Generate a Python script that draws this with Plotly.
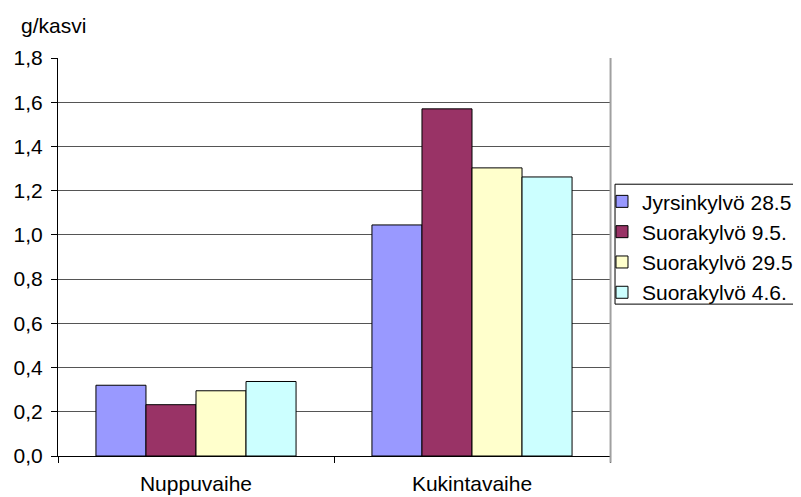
import plotly.graph_objects as go

categories = ["Nuppuvaihe", "Kukintavaihe"]
series_names = ["Jyrsinkylvö 28.5.", "Suorakylvö 9.5.", "Suorakylvö 29.5.", "Suorakylvö 4.6."]
jyrsin_285 = [0.32, 1.045]
suora_95 = [0.232, 1.57]
suora_295 = [0.295, 1.303]
suora_46 = [0.337, 1.262]
colors = ["#9999FF", "#993366", "#FFFFCC", "#CCFFFF"]
y_ticks = [0.0, 0.2, 0.4, 0.6, 0.8, 1.0, 1.2, 1.4, 1.6, 1.8]

FONT = "Arial, Liberation Sans, sans-serif"
fig = go.Figure()
for name, vals, col in zip(series_names, [jyrsin_285, suora_95, suora_295, suora_46], colors):
    fig.add_trace(go.Bar(x=categories, y=vals, name=name,
                         marker=dict(color=col, line=dict(color="black", width=1))))

fig.update_layout(
    width=793, height=489,
    margin=dict(l=50, r=191, t=50, b=41, autoexpand=False),
    paper_bgcolor="white", plot_bgcolor="white",
    font=dict(family=FONT, size=21, color="black"),
    separators=", ",
    barmode="group", bargap=0.275, bargroupgap=0,
    showlegend=True,
    legend=dict(x=0.9855, xanchor="left", y=0.6904, yanchor="top",
                bgcolor="rgba(0,0,0,0)", borderwidth=0,
                font=dict(family=FONT, size=21, color="black"),
                tracegroupgap=0),
    xaxis=dict(showline=True, linecolor="black", linewidth=1,
               ticks="outside", ticklen=6, tickcolor="black", tickson="boundaries",
               showgrid=False, ticklabelstandoff=9),
    yaxis=dict(range=[0, 1.8], tickvals=y_ticks, tickformat=".1f",
               showline=True, linecolor="black", linewidth=1,
               ticks="outside", ticklen=6, tickcolor="black",
               showgrid=True, gridcolor="#555555", gridwidth=1,
               zeroline=False, ticklabelstandoff=4),
    shapes=[
        dict(type="line", xref="paper", yref="paper", x0=1.001, x1=1.001, y0=-0.017, y1=1,
             line=dict(color="#A0A0A0", width=2)),
        dict(type="rect", xref="paper", yref="paper", x0=1.0091, x1=1.4, y0=0.3816, y1=0.6829,
             line=dict(color="black", width=1), fillcolor="rgba(0,0,0,0)"),
    ],
    annotations=[dict(text="g/kasvi", xref="paper", yref="paper", x=-0.0707, y=1.082,
                      xanchor="left", yanchor="middle", showarrow=False,
                      font=dict(family=FONT, size=21, color="black"))],
)
fig.write_html("out.html")
